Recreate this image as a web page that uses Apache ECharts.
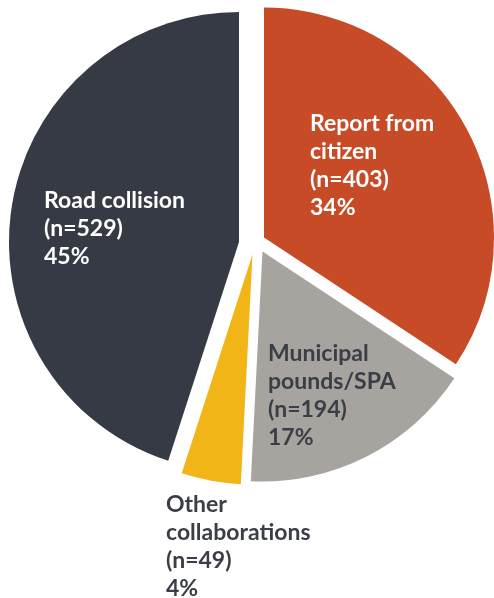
<!DOCTYPE html>
<html>
<head>
<meta charset="utf-8">
<script src="https://cdn.jsdelivr.net/npm/echarts@6/dist/echarts.min.js"></script>
<style>
html,body{margin:0;padding:0;background:#fff;}
#chart{width:494px;height:598px;}
</style>
</head>
<body>
<div id="chart"></div>
<script>
// ---- data ----
var categories = ['Report from\ncitizen', 'Municipal\npounds/SPA', 'Other\ncollaborations', 'Road collision'];
var counts = [403, 194, 49, 529];

// ---- styles / layout ----
var colors = ['#c84b27', '#a7a39f', '#f1b518', '#363a44'];
var labelColors = ['#ffffff', '#3b3e46', '#3b3e46', '#ffffff'];
var labelPos = [[310, 110], [268, 340], [166, 491], [44, 187]];
// exploded slice centres (pie explosion)
var sliceCenters = [[264, 237.5], [262.5, 251.5], [252.5, 254.5], [239, 242]];
var pieRadius = 230;

var total = counts.reduce(function (a, b) { return a + b; }, 0);

var chart = echarts.init(document.getElementById('chart'), null, {renderer: 'canvas'});

var series = sliceCenters.map(function (ctr, k) {
  return {
    type: 'pie',
    center: ctr,
    radius: [0, pieRadius],
    startAngle: 90,
    clockwise: true,
    silent: true,
    z: 2,
    label: {show: false},
    labelLine: {show: false},
    data: categories.map(function (c, i) {
      return {
        name: c,
        value: counts[i],
        itemStyle: {color: i === k ? colors[i] : 'rgba(0,0,0,0)', borderWidth: 0}
      };
    })
  };
});

var texts = categories.map(function (c, i) {
  return {
    type: 'text',
    x: labelPos[i][0],
    y: labelPos[i][1],
    z: 100,
    style: {
      text: c + '\n(n=' + counts[i] + ')\n' + Math.round(counts[i] / total * 100) + '%',
      fill: labelColors[i],
      font: 'bold 23px Lato',
      lineHeight: 28,
      align: 'left',
      verticalAlign: 'top'
    }
  };
});

chart.setOption({
  animation: false,
  graphic: texts,
  series: series
});
</script>
</body>
</html>
